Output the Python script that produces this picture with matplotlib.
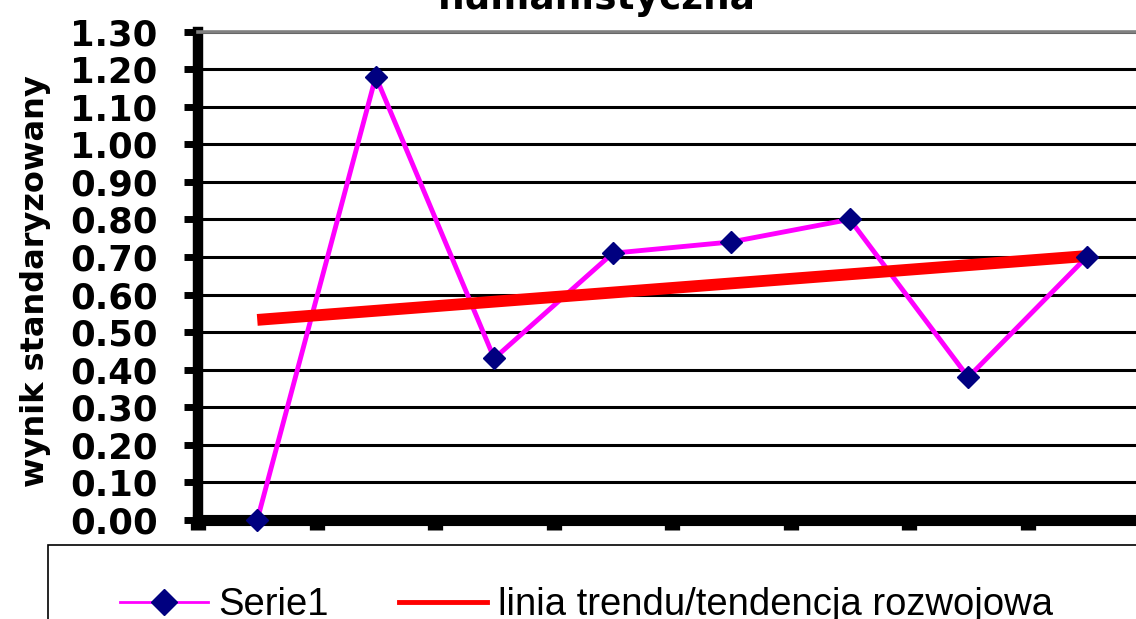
import numpy as np
import matplotlib
matplotlib.use("Agg")
import matplotlib.pyplot as plt
from matplotlib.lines import Line2D
from matplotlib.patches import Rectangle
from matplotlib.font_manager import FontProperties

# ---- data ----
categories = [1, 2, 3, 4, 5, 6, 7, 8]
serie1 = [0.00, 1.18, 0.43, 0.71, 0.74, 0.80, 0.38, 0.70]
y_ticks = [0.0, 0.1, 0.2, 0.3, 0.4, 0.5, 0.6, 0.7, 0.8, 0.9, 1.0, 1.1, 1.2, 1.3]
title = "humanistyczna"
y_label = "wynik standaryzowany"
legend_labels = ["Serie1", "linia trendu/tendencja rozwojowa"]

plt.rcParams['font.family'] = ['DejaVu Sans']

W, H = 1136, 619
fig = plt.figure(figsize=(W / 100, H / 100), dpi=100)
ax = fig.add_axes([198 / W, (H - 520) / H, (1146 - 198) / W, (520 - 31.5) / H])

x = np.array(categories, dtype=float)
y = np.array(serie1)
coef = np.polyfit(x, y, 1)
trend = np.polyval(coef, x)

ax.plot(x, y, color='#FF00FF', lw=3.5, zorder=3)
ax.plot(x, trend, color='#FF0000', lw=8.5, solid_capstyle='butt', zorder=4)
ax.plot(x, y, linestyle='none', marker='D', ms=11, mfc='#000080', mec='#000080',
        zorder=6, clip_on=False)

ax.set_xlim(0.5, 8.5)
ax.set_ylim(0, 1.3)
ax.set_yticks(y_ticks)
ax.set_yticklabels([f"{v:.2f}" for v in y_ticks])
ax.set_xticks(np.arange(0.5, 8.6, 1.0))
ax.set_xticklabels([])

ax.yaxis.grid(True, color='black', lw=2.2)
ax.set_axisbelow(True)

ax.spines['right'].set_visible(False)
ax.spines['top'].set_color('#808080')
ax.spines['top'].set_linewidth(2.6)
ax.spines['left'].set_linewidth(7.5)
ax.spines['bottom'].set_linewidth(8)

ax.tick_params(axis='y', direction='out', length=10, width=5, pad=19,
               labelsize=25.5, colors='black')
for lab in ax.get_yticklabels():
    lab.set_fontweight('bold')
ax.tick_params(axis='x', direction='out', length=7.5, width=11, labelbottom=False)

fig.text(597 / W, 1 - 9 / H, title, ha='center', va='baseline',
         fontsize=27, fontweight='bold')
fig.text(36 / W, 1 - 281 / H, y_label, rotation=90, ha='center', va='center',
         fontsize=23, fontweight='bold')

# legend box
fig.add_artist(Rectangle((48 / W, -0.1), 1.2, (H - 545) / H + 0.1,
                         transform=fig.transFigure, fill=False, ec='black', lw=1.2))
handles = [
    Line2D([], [], color='#FF00FF', lw=2, marker='D', ms=13, mfc='#000080', mec='#000080'),
    Line2D([], [], color='#FF0000', lw=3.5),
]
fig.legend(handles=handles, labels=legend_labels, ncol=2, frameon=False,
           prop=FontProperties(family='Liberation Sans', size=27.5),
           handlelength=2.3, handletextpad=0.27, columnspacing=1.85, borderpad=0,
           loc='center left', bbox_to_anchor=(101 / W, 1 - 605 / H))

fig.savefig("out.png", dpi=100)
